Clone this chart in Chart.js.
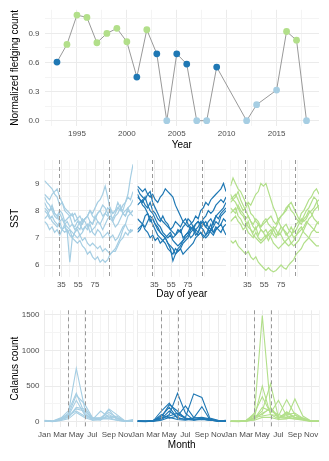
<!DOCTYPE html>
<html>
<head>
<meta charset="utf-8">
<script src="https://cdn.jsdelivr.net/npm/chart.js@4.4.0/dist/chart.umd.min.js"></script>
<style>
  html, body { margin: 0; padding: 0; background: #fff; }
  #wrap { position: relative; width: 329px; height: 461px; overflow: hidden; }
  canvas { position: absolute; left: 0; }
</style>
</head>
<body>
<div id="wrap">
  <canvas id="fledge" width="329" height="152" style="top:0px"></canvas>
  <canvas id="sst1" width="329" height="164" style="top:138px"></canvas>
  <canvas id="sst2" width="329" height="164" style="top:138px"></canvas>
  <canvas id="sst3" width="329" height="164" style="top:138px"></canvas>
  <canvas id="cal1" width="329" height="165" style="top:296px"></canvas>
  <canvas id="cal2" width="329" height="165" style="top:296px"></canvas>
  <canvas id="cal3" width="329" height="165" style="top:296px"></canvas>
</div>
<script>
// --- fledging series (top) ---
const fledgeYears = [1993, 1994, 1995, 1996, 1997, 1998, 1999, 2000, 2001, 2002, 2003, 2004,
  2005, 2006, 2007, 2008, 2009, 2012, 2013, 2015, 2016, 2017, 2018];
const fledgeValues = [0.605, 0.787, 1.089, 1.065, 0.804, 0.90, 0.952, 0.814, 0.45, 0.938, 0.69, 0,
  0.69, 0.584, 0, 0, 0.553, 0, 0.165, 0.316, 0.92, 0.83, 0];
const fledgeGroups = ["mid", "high", "high", "high", "high", "high", "high", "high", "mid", "high", "mid", "low",
  "mid", "mid", "low", "low", "mid", "low", "low", "low", "high", "high", "low"];

const yearTicks = [1995, 2000, 2005, 2010, 2015];
const fledgeTicks = [0, 0.3, 0.6, 0.9];

// --- SST (day of year) ---
const sstDays = [15, 18, 21, 24, 27, 30, 33, 36, 39, 42, 45, 48, 51, 54, 57, 60, 63, 66,
  69, 72, 75, 78, 81, 84, 87, 90, 93, 96, 99, 102, 105, 108, 111, 114, 117, 120];
const dayTicks = [35, 55, 75];
const sstTicks = [6, 7, 8, 9];
const sstWindow = [32, 91];

const sstLow = [
  [9.1, 9.0, 8.9, 8.8, 8.6, 8.5, 8.2, 8.3, 8.0, 7.9, 7.8, 7.9, 7.6, 7.7, 7.5, 7.7, 7.6, 7.4, 7.6, 7.5, 7.8, 7.6, 7.5, 7.7, 7.9, 8.1, 8.0, 7.9, 8.0, 8.1, 8.2, 7.9, 8.0, 8.1, 7.9, 7.8],
  [8.3, 8.1, 8.0, 8.2, 7.9, 7.8, 8.0, 7.9, 7.6, 7.7, 7.8, 7.5, 7.4, 7.6, 7.5, 7.3, 7.4, 7.5, 7.2, 7.3, 7.4, 7.6, 7.5, 7.3, 7.5, 7.7, 7.8, 7.7, 7.9, 8.1, 8.0, 8.2, 8.3, 8.6, 9.2, 9.7],
  [8.1, 8.0, 7.8, 7.6, 7.5, 7.4, 7.6, 7.3, 7.5, 7.2, 6.1, 7.0, 7.2, 7.4, 7.3, 7.6, 7.7, 7.8, 8.0, 7.8, 7.7, 7.9, 8.0, 8.2, 8.1, 7.9, 7.7, 7.6, 7.8, 7.9, 8.1, 7.9, 7.8, 8.0, 7.9, 8.0],
  [8.0, 7.9, 7.7, 7.8, 7.6, 7.5, 7.4, 7.3, 7.2, 7.3, 7.1, 7.0, 6.9, 6.8, 6.9, 6.7, 6.6, 6.4, 6.5, 6.3, 6.2, 6.3, 6.1, 6.2, 6.1, 6.2, 6.4, 6.5, 6.5, 6.7, 6.9, 7.0, 7.2, 7.1, 7.3, 7.25],
  [7.7, 7.8, 8.0, 8.1, 7.9, 7.8, 7.6, 7.7, 7.5, 7.6, 7.4, 7.5, 7.3, 7.4, 7.6, 7.5, 7.7, 7.8, 8.0, 7.9, 8.1, 8.3, 8.4, 8.6, 8.9, 8.5, 8.0, 7.6, 7.4, 7.5, 7.7, 7.9, 7.8, 8.1, 8.2, 8.4],
  [8.5, 8.3, 8.2, 8.0, 7.8, 7.7, 7.9, 7.7, 7.5, 7.4, 7.3, 7.2, 7.1, 7.0, 7.1, 6.9, 7.0, 6.8, 6.7, 6.8, 6.7, 6.6, 6.7, 6.5, 6.6, 6.5, 6.4, 6.5, 6.6, 6.8, 7.0, 7.3, 7.5, 7.8, 7.9, 8.0],
  [7.6, 7.5, 7.3, 7.4, 7.2, 7.3, 7.1, 7.3, 7.4, 7.2, 7.3, 7.0, 7.2, 7.3, 7.1, 7.2, 7.4, 7.3, 7.5, 7.2, 7.1, 7.3, 7.2, 7.0, 7.1, 7.2, 7.0, 7.1, 6.9, 7.0, 7.2, 7.4, 7.5, 7.3, 7.2, 7.3],
  [8.6, 8.5, 8.4, 8.6, 8.7, 8.8, 8.5, 8.3, 8.1, 8.0, 7.9, 7.8, 7.9, 7.7, 7.8, 7.6, 7.7, 7.8, 7.6, 7.5, 7.7, 7.9, 8.0, 7.8, 7.9, 7.8, 8.1, 7.9, 8.0, 8.3, 8.1, 8.0, 8.3, 8.5, 8.4, 8.7]
];
const sstMid = [
  [8.9, 8.8, 8.7, 8.8, 8.6, 8.5, 8.6, 8.4, 8.3, 8.5, 8.6, 8.8, 8.7, 8.6, 8.5, 8.2, 8.0, 7.8, 7.6, 7.5, 7.4, 7.5, 7.6, 7.8, 7.7, 8.0, 8.1, 8.3, 8.2, 8.4, 8.5, 8.6, 8.7, 8.8, 9.0, 8.7],
  [8.8, 8.6, 8.5, 8.4, 8.6, 8.7, 8.3, 8.1, 7.9, 7.7, 7.6, 7.5, 7.4, 7.3, 7.2, 7.1, 7.2, 7.3, 7.0, 7.1, 7.2, 7.4, 7.3, 7.5, 7.6, 7.5, 7.7, 7.8, 8.0, 7.9, 8.0, 8.2, 8.3, 8.4, 8.3, 8.5],
  [8.5, 8.4, 8.2, 8.1, 7.9, 7.7, 7.5, 7.3, 7.1, 7.0, 6.9, 6.8, 6.6, 6.5, 6.4, 6.6, 6.5, 6.6, 6.8, 6.9, 7.0, 7.2, 7.3, 7.1, 7.2, 7.4, 7.5, 7.6, 7.4, 7.3, 7.6, 7.8, 7.9, 8.0, 8.1, 8.3],
  [8.2, 8.3, 8.4, 8.2, 8.1, 8.3, 8.0, 7.9, 7.7, 7.6, 7.8, 7.6, 7.5, 7.3, 7.4, 7.6, 7.5, 7.4, 7.6, 7.7, 7.5, 7.3, 7.4, 7.2, 7.1, 7.2, 7.1, 7.0, 7.1, 7.3, 7.4, 7.6, 7.5, 7.8, 7.9, 8.0],
  [7.7, 7.6, 7.5, 7.8, 7.9, 7.6, 7.7, 7.5, 7.4, 7.2, 7.1, 7.0, 6.8, 6.6, 6.15, 6.4, 6.6, 6.7, 6.9, 7.0, 7.1, 7.3, 7.4, 7.3, 7.2, 7.5, 7.6, 7.4, 7.3, 7.5, 7.2, 7.3, 7.4, 7.5, 7.7, 7.6],
  [7.3, 7.4, 7.5, 7.3, 7.2, 7.0, 7.1, 6.9, 7.0, 6.8, 6.9, 7.0, 6.8, 6.7, 6.6, 6.4, 6.5, 6.6, 6.4, 6.5, 6.6, 6.7, 6.8, 7.0, 7.1, 7.2, 7.0, 7.1, 7.3, 7.2, 7.1, 7.3, 7.4, 7.5, 7.3, 7.1],
  [7.2, 7.3, 7.5, 7.4, 7.6, 7.8, 7.7, 7.5, 7.3, 7.2, 7.1, 7.0, 7.1, 7.2, 7.0, 7.1, 7.3, 7.2, 7.4, 7.5, 7.7, 7.6, 7.4, 7.5, 7.6, 7.4, 7.3, 7.1, 7.2, 7.3, 7.2, 7.4, 7.3, 7.2, 7.4, 7.5],
  [8.6, 8.4, 8.3, 8.5, 8.2, 8.0, 7.9, 7.7, 7.5, 7.4, 7.2, 7.1, 7.0, 7.1, 6.9, 6.8, 6.7, 6.8, 6.9, 7.1, 7.2, 7.0, 7.1, 7.3, 7.4, 7.6, 7.5, 7.4, 7.6, 7.7, 7.5, 7.8, 7.7, 7.9, 8.0, 8.1]
];
const sstHigh = [
  [8.9, 9.2, 9.0, 8.8, 8.7, 8.5, 8.3, 8.2, 7.9, 7.8, 7.6, 7.5, 7.4, 7.6, 7.7, 7.5, 7.4, 7.3, 7.1, 7.2, 7.4, 7.3, 7.2, 7.0, 7.1, 7.3, 7.5, 7.6, 7.9, 8.0, 8.2, 8.4, 8.5, 8.7, 8.8, 8.6],
  [8.4, 8.5, 8.6, 8.4, 8.2, 8.0, 8.1, 8.3, 8.2, 8.4, 8.6, 8.7, 9.0, 8.9, 9.0, 8.7, 8.4, 8.1, 7.9, 7.6, 7.4, 7.3, 7.1, 7.2, 7.4, 7.2, 7.3, 7.5, 7.7, 7.6, 7.7, 7.9, 8.0, 8.1, 8.3, 8.4],
  [6.9, 6.8, 6.9, 6.7, 6.6, 6.5, 6.4, 6.5, 6.3, 6.2, 6.3, 6.1, 6.0, 5.9, 5.8, 5.9, 5.8, 5.75, 5.8, 5.9, 6.0, 5.9, 5.85, 6.0, 6.1, 6.2, 6.4, 6.5, 6.6, 6.8, 6.9, 7.0, 7.2, 7.3, 7.5, 7.6],
  [8.6, 8.4, 8.3, 8.1, 7.9, 7.8, 7.6, 7.4, 7.3, 7.1, 7.0, 6.9, 6.8, 6.9, 7.0, 7.2, 7.3, 7.1, 7.0, 7.2, 7.1, 6.9, 6.8, 6.7, 6.8, 6.9, 7.1, 7.3, 7.4, 7.2, 7.1, 7.0, 6.9, 6.8, 6.7, 6.7],
  [8.1, 8.0, 7.9, 8.2, 8.0, 7.9, 7.7, 7.8, 7.6, 7.5, 7.7, 7.6, 7.4, 7.5, 7.6, 7.7, 7.8, 7.6, 7.5, 7.7, 7.8, 7.9, 8.1, 8.2, 8.0, 7.9, 7.7, 7.6, 7.5, 7.7, 7.8, 8.0, 7.9, 7.7, 7.6, 7.5],
  [7.6, 7.7, 7.8, 7.6, 7.5, 7.3, 7.4, 7.6, 7.3, 7.2, 7.4, 7.1, 7.3, 7.2, 7.0, 7.1, 7.2, 7.4, 7.3, 7.1, 7.2, 7.4, 7.5, 7.3, 7.2, 7.0, 7.1, 7.2, 7.3, 7.4, 7.6, 7.5, 7.4, 7.3, 7.2, 7.2],
  [8.3, 8.4, 8.5, 8.7, 8.4, 8.2, 8.0, 7.8, 7.6, 7.4, 7.3, 7.5, 7.3, 7.2, 7.3, 7.1, 7.0, 6.8, 6.7, 6.6, 6.7, 6.8, 6.9, 7.0, 6.8, 6.7, 6.8, 6.9, 7.1, 7.3, 7.5, 7.7, 7.8, 8.0, 8.1, 8.2],
  [7.9, 8.0, 8.1, 7.8, 7.7, 7.5, 7.4, 7.2, 7.1, 7.0, 7.2, 7.0, 6.9, 7.0, 7.1, 6.9, 7.1, 7.3, 7.4, 7.6, 7.8, 7.9, 8.0, 8.2, 8.3, 8.1, 7.9, 7.7, 7.6, 7.8, 8.0, 8.1, 8.3, 8.5, 8.4, 8.0]
];

// --- Calanus (monthly, x = day of year of the 1st) ---
const monthStarts = [0, 31, 59, 90, 120, 151, 181, 212, 243, 273, 304, 334];
const monthNames = ["Jan", "Feb", "Mar", "Apr", "May", "Jun", "Jul", "Aug", "Sep", "Oct", "Nov", "Dec"];
const monthTickIdx = [0, 2, 4, 6, 8, 10];
const calTicks = [0, 500, 1000, 1500];
const calWindow = [90, 151];

const calLow = [
  [15, 5, 30, 120, 750, 200, 50, 30, 80, 50, 10, 20],
  [10, 5, 40, 150, 400, 120, 30, 150, 60, 20, 5, 10],
  [20, 10, 50, 100, 370, 250, 60, 40, 180, 100, 10, 30],
  [5, 5, 20, 80, 300, 100, 40, 60, 130, 60, 5, 5],
  [10, 0, 30, 60, 200, 180, 20, 30, 100, 40, 10, 15],
  [15, 5, 25, 70, 180, 150, 50, 50, 50, 80, 5, 10],
  [10, 5, 35, 90, 150, 80, 30, 20, 170, 30, 10, 20],
  [5, 5, 15, 40, 130, 60, 20, 40, 40, 20, 5, 5]
];
const calMid = [
  [10, 5, 10, 30, 100, 400, 120, 20, 30, 20, 10, 10],
  [10, 5, 15, 50, 80, 120, 60, 390, 340, 50, 20, 15],
  [5, 5, 10, 150, 260, 100, 50, 30, 30, 40, 10, 10],
  [10, 10, 20, 60, 240, 150, 40, 50, 210, 30, 5, 5],
  [5, 0, 10, 100, 50, 80, 220, 60, 40, 20, 10, 20],
  [10, 5, 10, 40, 150, 60, 30, 20, 50, 30, 15, 10],
  [5, 5, 5, 20, 60, 30, 20, 50, 60, 40, 10, 5],
  [10, 5, 10, 80, 200, 50, 30, 30, 40, 20, 10, 10]
];
const calHigh = [
  [5, 5, 20, 100, 1490, 200, 60, 50, 40, 30, 10, 5],
  [5, 5, 10, 60, 500, 100, 80, 310, 100, 40, 10, 10],
  [10, 5, 10, 50, 150, 530, 60, 120, 60, 50, 10, 10],
  [5, 5, 10, 120, 350, 120, 300, 80, 60, 30, 10, 5],
  [5, 5, 20, 80, 100, 200, 60, 50, 320, 80, 10, 5],
  [5, 0, 10, 40, 200, 150, 100, 60, 40, 20, 5, 10],
  [5, 5, 5, 30, 120, 180, 50, 100, 120, 50, 10, 5],
  [5, 5, 10, 60, 80, 100, 40, 140, 60, 30, 10, 10],
  [5, 5, 15, 20, 60, 60, 30, 40, 90, 30, 5, 5]
];

// colours
const groupColor = { low: "#a6cee3", mid: "#1f78b4", high: "#b2df8a" };
const GRID_MAJOR = "#ebebeb";
const GRID_MINOR = "#f4f4f4";

Chart.defaults.font.family = "'Liberation Sans', Arial, sans-serif";

// panel boxes (pixels)
const panelX = [[44.5, 133], [137.5, 226], [230.5, 319]];

const vlinePlugin = {
  id: "vlines",
  afterDatasetsDraw(chart, args, opts) {
    if (!opts.values) return;
    const { ctx, chartArea, scales } = chart;
    ctx.save();
    ctx.strokeStyle = "#999999";
    ctx.lineWidth = 1;
    ctx.setLineDash([4, 3]);
    opts.values.forEach(v => {
      const x = Math.round(scales.x.getPixelForValue(v)) + 0.5;
      ctx.beginPath();
      ctx.moveTo(x, chartArea.top);
      ctx.lineTo(x, chartArea.bottom);
      ctx.stroke();
    });
    ctx.restore();
  }
};

function minorBetween(major, step, min, max) {
  // half-way lines, like ggplot minor breaks
  const out = [];
  for (let v = major[0] - step * 2; v <= max; v += step) {
    const r = Math.round(v * 1000) / 1000;
    if (r >= min && r <= max && !major.includes(r)) out.push(r);
  }
  return out;
}

function axis(min, max, major, minor, fmt) {
  const all = major.concat(minor).sort((a, b) => a - b);
  return {
    type: "linear",
    min: min,
    max: max,
    afterBuildTicks: s => { s.ticks = all.map(v => ({ value: v })); },
    ticks: {
      autoSkip: false,
      maxRotation: 0,
      color: "#4d4d4d",
      font: { size: 8 },
      callback: v => major.includes(v) ? fmt(v) : ""
    },
    grid: {
      drawTicks: false,
      color: c => (c.tick && major.includes(c.tick.value)) ? GRID_MAJOR : GRID_MINOR,
      lineWidth: 1
    },
    border: { display: false }
  };
}

function lineSet(xs, ys, color, width) {
  return {
    data: xs.map((x, i) => ({ x: x, y: ys[i] })),
    borderColor: color,
    borderWidth: width,
    pointRadius: 0,
    fill: false,
    tension: 0
  };
}

function makePanel(id, o) {
  const el = document.getElementById(id);
  const canvasTop = o.canvasTop;
  const h = el.height;

  const x = axis(o.xMin, o.xMax, o.xMajor, o.xMinor, o.xFmt);
  x.afterFit = s => { s.height = canvasTop + h - o.bottom; };
  x.ticks.padding = 3;
  x.title = o.xTitle
    ? { display: true, text: o.xTitle, color: "#000", font: { size: 10 }, padding: { top: 0, bottom: o.xTitlePad } }
    : { display: false };

  const y = axis(o.yMin, o.yMax, o.yMajor, o.yMinor, o.yFmt);
  y.afterFit = s => { s.width = o.showY ? o.left : 0; };
  y.ticks.display = o.showY;
  y.ticks.padding = 5;
  y.title = o.yTitle
    ? { display: true, text: o.yTitle, color: "#000", font: { size: 10 }, padding: { top: 9, bottom: 0 } }
    : { display: false };

  return new Chart(el, {
    type: "line",
    data: { datasets: o.datasets },
    options: {
      responsive: false,
      animation: false,
      devicePixelRatio: 1,
      events: [],
      layout: {
        autoPadding: false,
        padding: { left: o.showY ? 0 : o.left, right: 329 - o.right, top: o.top - canvasTop, bottom: 0 }
      },
      plugins: {
        legend: { display: false },
        tooltip: { enabled: false },
        vlines: { values: o.vlines }
      },
      scales: { x: x, y: y }
    },
    plugins: [vlinePlugin]
  });
}

// top: fledging count by year
makePanel("fledge", {
  canvasTop: 0, left: 44.5, right: 319, top: 9.8, bottom: 126, showY: true,
  xMin: 1991.75, xMax: 2019.25, xMajor: yearTicks, xMinor: minorBetween(yearTicks, 2.5, 1991.75, 2019.25),
  xFmt: v => String(v), xTitle: "Year", xTitlePad: 1,
  yMin: -0.0545, yMax: 1.1435, yMajor: fledgeTicks, yMinor: minorBetween(fledgeTicks, 0.15, -0.0545, 1.1435),
  yFmt: v => v.toFixed(1), yTitle: "Normalized fledging count",
  datasets: [{
    data: fledgeYears.map((x, i) => ({ x: x, y: fledgeValues[i] })),
    borderColor: "#999999",
    borderWidth: 1,
    tension: 0,
    pointRadius: 3.4,
    pointBorderWidth: 0,
    pointBackgroundColor: fledgeGroups.map(g => groupColor[g])
  }]
});

// middle row: SST
const sstGroups = [sstLow, sstMid, sstHigh];
const groupKeys = ["low", "mid", "high"];
sstGroups.forEach((lines, p) => {
  makePanel("sst" + (p + 1), {
    canvasTop: 138, left: panelX[p][0], right: panelX[p][1], top: 160, bottom: 276.7, showY: p === 0,
    xMin: 15, xMax: 120, xMajor: dayTicks, xMinor: [15, 25, 45, 65, 85, 95],
    xFmt: v => String(v), xTitle: p === 1 ? "Day of year" : null, xTitlePad: 1.5,
    yMin: 5.57, yMax: 9.86, yMajor: sstTicks, yMinor: [6.5, 7.5, 8.5, 9.5],
    yFmt: v => String(v), yTitle: p === 0 ? "SST" : null,
    vlines: sstWindow,
    datasets: lines.map(ys => lineSet(sstDays, ys, groupColor[groupKeys[p]], 1.2))
  });
});

// bottom row: Calanus
const calGroups = [calLow, calMid, calHigh];
const monthMajor = monthTickIdx.map(i => monthStarts[i]);
const monthMinor = monthStarts.filter(d => !monthMajor.includes(d));
calGroups.forEach((lines, p) => {
  makePanel("cal" + (p + 1), {
    canvasTop: 296, left: panelX[p][0], right: panelX[p][1], top: 310.3, bottom: 427, showY: p === 0,
    xMin: 0, xMax: 334, xMajor: monthMajor, xMinor: monthMinor,
    xFmt: v => monthNames[monthStarts.indexOf(v)], xTitle: p === 1 ? "Month" : null, xTitlePad: 10,
    yMin: -74.5, yMax: 1564.5, yMajor: calTicks, yMinor: [250, 750, 1250],
    yFmt: v => String(v), yTitle: p === 0 ? "Calanus count" : null,
    vlines: calWindow,
    datasets: lines.map(ys => lineSet(monthStarts, ys, groupColor[groupKeys[p]], 1.1))
  });
});
</script>
</body>
</html>
